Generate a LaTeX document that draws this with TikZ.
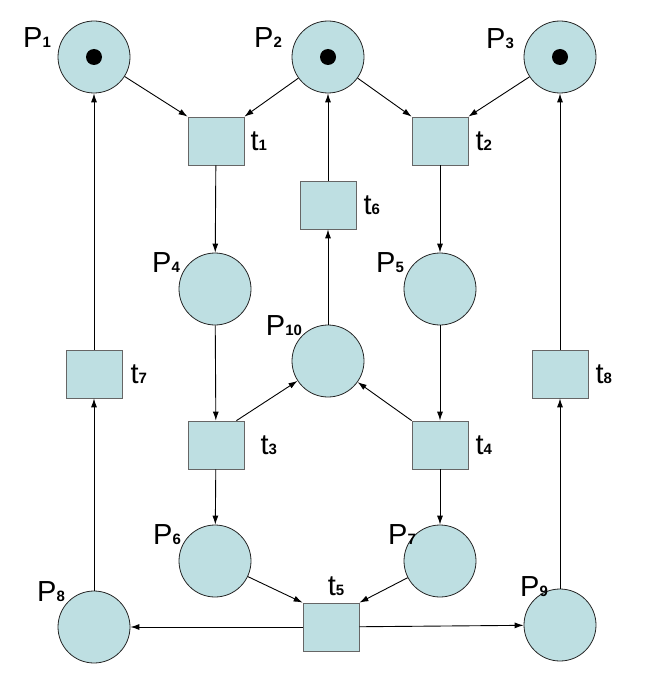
\documentclass[tikz,border=0pt]{standalone}
\usepackage{fontspec}
\setmainfont{Liberation Sans}
\usetikzlibrary{arrows.meta, calc}
\definecolor{petriblue}{RGB}{190,223,226}
\newcommand{\pname}[2]{#1{\fontsize{15}{15}\selectfont\bfseries #2}}

\begin{document}
\begin{tikzpicture}[
    x=1pt, y=-1pt,
    place/.style={draw=black!85, fill=petriblue, circle, minimum size=72pt, inner sep=0pt, line width=0.8pt},
    marked/.style={path picture={\fill[black] (path picture bounding box.center) circle (8pt);}},
    trans/.style={draw=black!60, fill=petriblue, rectangle, minimum width=56pt, minimum height=48pt, inner sep=0pt, line width=0.8pt},
    lbl/.style={font=\fontsize{29}{29}\selectfont, inner sep=0pt},
    arc/.style={-{Latex[length=9pt, width=6pt]}, line width=0.9pt}
]
    \useasboundingbox (0,0) rectangle (661,674);

    % places
    \node[place, marked] (P1) at (94,57) {};
    \node[place, marked] (P2) at (328,57) {};
    \node[place, marked] (P3) at (560,57) {};
    \node[place] (P4) at (215,289) {};
    \node[place] (P5) at (440,289) {};
    \node[place] (P10) at (328,361) {};
    \node[place] (P6) at (215,561) {};
    \node[place] (P7) at (440,561) {};
    \node[place] (P8) at (94,627) {};
    \node[place] (P9) at (560,625) {};

    % transitions
    \node[trans, label={[lbl, label distance=6pt]right:\pname{t}{1}}] (t1) at (216,141) {};
    \node[trans, label={[lbl, label distance=7pt]right:\pname{t}{2}}] (t2) at (440,141) {};
    \node[trans, label={[lbl, label distance=16pt]right:\pname{t}{3}}] (t3) at (216,445) {};
    \node[trans, label={[lbl, label distance=7pt]right:\pname{t}{4}}] (t4) at (440,445) {};
    \node[trans, label={[lbl, label distance=7pt, xshift=5pt]above:\pname{t}{5}}] (t5) at (331,627) {};
    \node[trans, label={[lbl, label distance=7pt]right:\pname{t}{6}}] (t6) at (328,205) {};
    \node[trans, label={[lbl, label distance=8pt]right:\pname{t}{7}}] (t7) at (94,374) {};
    \node[trans, label={[lbl, label distance=7pt]right:\pname{t}{8}}] (t8) at (560,374) {};

    % place names
    \node[lbl] (lP1) at ($(P1)+(-57,-19)$) {\pname{P}{1}};
    \node[lbl] (lP2) at ($(P2)+(-60,-19)$) {\pname{P}{2}};
    \node[lbl] (lP3) at ($(P3)+(-60,-18)$) {\pname{P}{3}};
    \node[lbl] (lP4) at ($(P4)+(-49,-26)$) {\pname{P}{4}};
    \node[lbl] (lP5) at ($(P5)+(-50,-26)$) {\pname{P}{5}};
    \node[lbl] (lP10) at ($(P10)+(-44,-35)$) {\pname{P}{10}};
    \node[lbl] (lP6) at ($(P6)+(-48,-26)$) {\pname{P}{6}};
    \node[lbl] (lP7) at ($(P7)+(-38,-26)$) {\pname{P}{7}};
    \node[lbl] (lP8) at ($(P8)+(-43,-35)$) {\pname{P}{8}};
    \node[lbl] (lP9) at ($(P9)+(-26,-38)$) {\pname{P}{9}};

    % arcs
    \foreach \a/\b in {P1/t1.north west, P2/t1.north east, P2/t2.north west, P3/t2.north east,
                       t1/P4, t2/P5, P4/t3, P5/t4, t3.50/P10, t4.north west/P10,
                       P10/t6, t6/P2, t3/P6, t4/P7, P6/t5.north west, P7/t5.north east,
                       t5/P8, t5/P9, P8/t7, t7/P1, P9/t8, t8/P3}
        \draw[arc] (\a) -- (\b);
\end{tikzpicture}
\end{document}
